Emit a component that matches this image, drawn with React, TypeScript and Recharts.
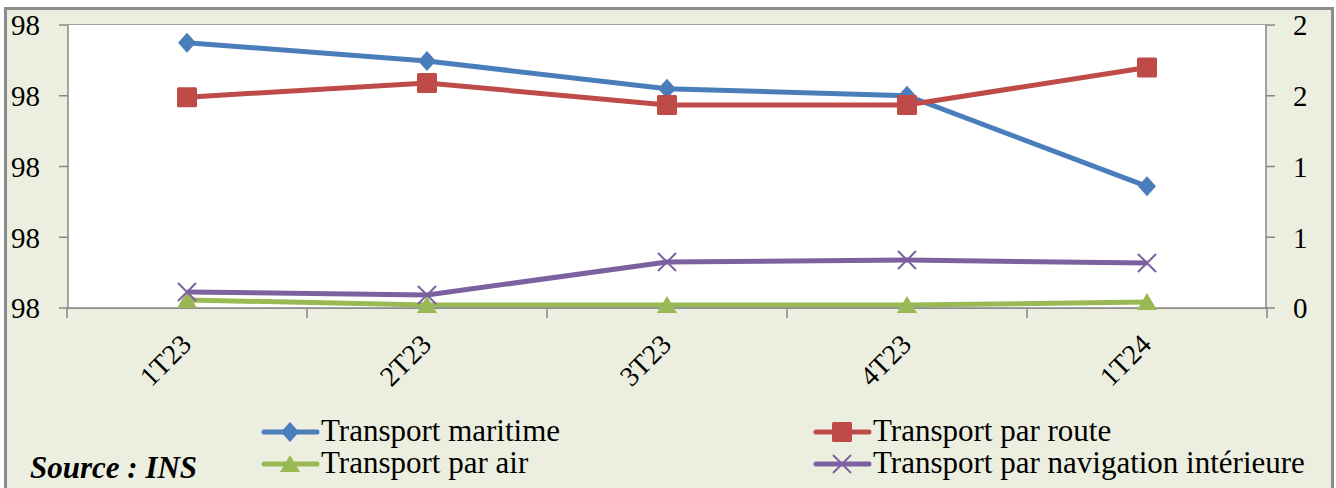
import React from "react";
import { CartesianGrid, Legend, Line, LineChart, XAxis, YAxis } from "recharts";

const quarters = ["1T23", "2T23", "3T23", "4T23", "1T24"];
const maritime = [98.375, 98.349, 98.31, 98.3, 98.172];
const route = [1.49, 1.59, 1.435, 1.435, 1.7];
const air = [0.057, 0.021, 0.021, 0.021, 0.042];
const navigation = [0.113, 0.092, 0.325, 0.339, 0.318];

const leftTicks = [98.0, 98.1, 98.2, 98.3, 98.4];
const rightTicks = [0, 0.5, 1, 1.5, 2];

const data = quarters.map((q, i) => ({
  quarter: q,
  maritime: maritime[i],
  route: route[i],
  air: air[i],
  navigation: navigation[i],
}));

const FONT = "Liberation Serif";
const BLUE = "#4A7EBB";
const RED = "#BE4B48";
const GREEN = "#98B954";
const PURPLE = "#7D60A0";
const GRID = "#878787";

type Shape = "diamond" | "square" | "triangle" | "cross";

function Marker({ cx, cy, shape, color }: { cx: number; cy: number; shape: Shape; color: string }) {
  if (shape === "diamond") {
    return <polygon points={`${cx},${cy - 10} ${cx + 9},${cy} ${cx},${cy + 10} ${cx - 9},${cy}`} fill={color} />;
  }
  if (shape === "square") {
    return <rect x={cx - 10} y={cy - 10} width={20} height={20} rx={1.5} fill={color} />;
  }
  if (shape === "triangle") {
    return <polygon points={`${cx},${cy - 9} ${cx + 10},${cy + 8} ${cx - 10},${cy + 8}`} fill={color} />;
  }
  return (
    <g stroke={color} strokeWidth={2}>
      <line x1={cx - 9} y1={cy - 9} x2={cx + 9} y2={cy + 9} />
      <line x1={cx - 9} y1={cy + 9} x2={cx + 9} y2={cy - 9} />
    </g>
  );
}

const makeDot = (shape: Shape, color: string) => (props: any) => {
  const { cx, cy, index } = props;
  if (cx == null || cy == null) return <g key={index} />;
  return <Marker key={index} cx={cx} cy={cy} shape={shape} color={color} />;
};

// label + boundary tick marks (Excel style, between categories)
const XTick = ({ x, y, payload, index, visibleTicksCount }: any) => (
  <g>
    <line x1={x - 120} y1={y} x2={x - 120} y2={y + 10} stroke={GRID} strokeWidth={1.5} />
    {index === visibleTicksCount - 1 && (
      <line x1={x + 120} y1={y} x2={x + 120} y2={y + 10} stroke={GRID} strokeWidth={1.5} />
    )}
    <g transform={`translate(${x + 6},${y + 38})`}>
      <text textAnchor="end" transform="rotate(-45)" fontSize={28} fontFamily={FONT} fill="#000">
        {payload.value}
      </text>
    </g>
  </g>
);

const legendItems: { label: string; color: string; shape: Shape; left: number; row: number }[] = [
  { label: "Transport maritime", color: BLUE, shape: "diamond", left: 262, row: 0 },
  { label: "Transport par route", color: RED, shape: "square", left: 814, row: 0 },
  { label: "Transport par air", color: GREEN, shape: "triangle", left: 262, row: 1 },
  { label: "Transport par navigation intérieure", color: PURPLE, shape: "cross", left: 814, row: 1 },
];

const LegendBox = () => (
  <div style={{ position: "relative", width: 1336, height: 68 }}>
    {legendItems.map((it) => (
      <React.Fragment key={it.label}>
        <svg
          width={60}
          height={30}
          style={{ position: "absolute", left: it.left - 1, top: 22 + it.row * 32 - 15 }}
        >
          <line x1={3} y1={15} x2={56} y2={15} stroke={it.color} strokeWidth={5} strokeLinecap="round" />
          <Marker cx={29} cy={15} shape={it.shape} color={it.color} />
        </svg>
        <span
          style={{
            position: "absolute",
            left: it.left + 59,
            top: 3.5 + it.row * 32,
            fontFamily: FONT,
            fontSize: 31,
            lineHeight: "34px",
            color: "#000",
            whiteSpace: "nowrap",
          }}
        >
          {it.label}
        </span>
      </React.Fragment>
    ))}
  </div>
);

export default function App() {
  return (
    <div style={{ position: "absolute", left: 0, top: 0, width: 1336, height: 488, background: "#fff", overflow: "hidden" }}>
      <div
        style={{
          position: "absolute",
          left: 4,
          top: 7,
          width: 1330,
          height: 490,
          background: "#ECEFDF",
          border: "3px solid #8C8C8C",
          boxSizing: "border-box",
        }}
      />
      <div style={{ position: "absolute", left: 0, top: 0 }}>
        <LineChart width={1336} height={488} data={data} margin={{ top: 25, right: 10, bottom: 5, left: 8 }}>
          <rect x={68} y={25} width={1198} height={283} fill="#fff" />
          <CartesianGrid horizontal vertical={false} stroke={GRID} strokeWidth={1.5} yAxisId="left" />
          <XAxis
            dataKey="quarter"
            height={107}
            tick={<XTick />}
            tickLine={false}
            tickSize={0}
            tickMargin={0}
            padding={{ left: 119, right: 119 }}
            axisLine={{ stroke: GRID, strokeWidth: 1.5 }}
            interval={0}
          />
          <YAxis
            yAxisId="left"
            orientation="left"
            width={60}
            domain={[98.0, 98.4]}
            ticks={leftTicks}
            tickFormatter={(v: number) => String(Math.round(v))}
            tick={{ fontSize: 29, fontFamily: FONT, fill: "#000" }}
            tickSize={9}
            tickMargin={19}
            tickLine={{ stroke: GRID, strokeWidth: 1.5 }}
            axisLine={{ stroke: GRID, strokeWidth: 1.5 }}
            allowDataOverflow
          />
          <YAxis
            yAxisId="right"
            orientation="right"
            width={60}
            domain={[0, 2]}
            ticks={rightTicks}
            tickFormatter={(v: number) => String(Math.round(v))}
            tick={{ fontSize: 29, fontFamily: FONT, fill: "#000", textAnchor: "start" }}
            tickSize={9}
            tickMargin={18}
            tickLine={{ stroke: GRID, strokeWidth: 1.5 }}
            axisLine={{ stroke: GRID, strokeWidth: 1.5 }}
          />
          <Legend verticalAlign="bottom" content={<LegendBox />} wrapperStyle={{ top: 410, left: 0 }} />
          <Line
            yAxisId="left"
            dataKey="maritime"
            name="Transport maritime"
            stroke={BLUE}
            strokeWidth={5}
            dot={makeDot("diamond", BLUE)}
            isAnimationActive={false}
          />
          <Line
            yAxisId="right"
            dataKey="route"
            name="Transport par route"
            stroke={RED}
            strokeWidth={5}
            dot={makeDot("square", RED)}
            isAnimationActive={false}
          />
          <Line
            yAxisId="right"
            dataKey="air"
            name="Transport par air"
            stroke={GREEN}
            strokeWidth={5}
            dot={makeDot("triangle", GREEN)}
            isAnimationActive={false}
          />
          <Line
            yAxisId="right"
            dataKey="navigation"
            name="Transport par navigation intérieure"
            stroke={PURPLE}
            strokeWidth={5}
            dot={makeDot("cross", PURPLE)}
            isAnimationActive={false}
          />
        </LineChart>
      </div>
      <div
        style={{
          position: "absolute",
          left: 30,
          top: 450,
          fontFamily: FONT,
          fontSize: 31,
          fontWeight: "bold",
          fontStyle: "italic",
          color: "#000",
          whiteSpace: "nowrap",
        }}
      >
        Source : INS
      </div>
    </div>
  );
}
